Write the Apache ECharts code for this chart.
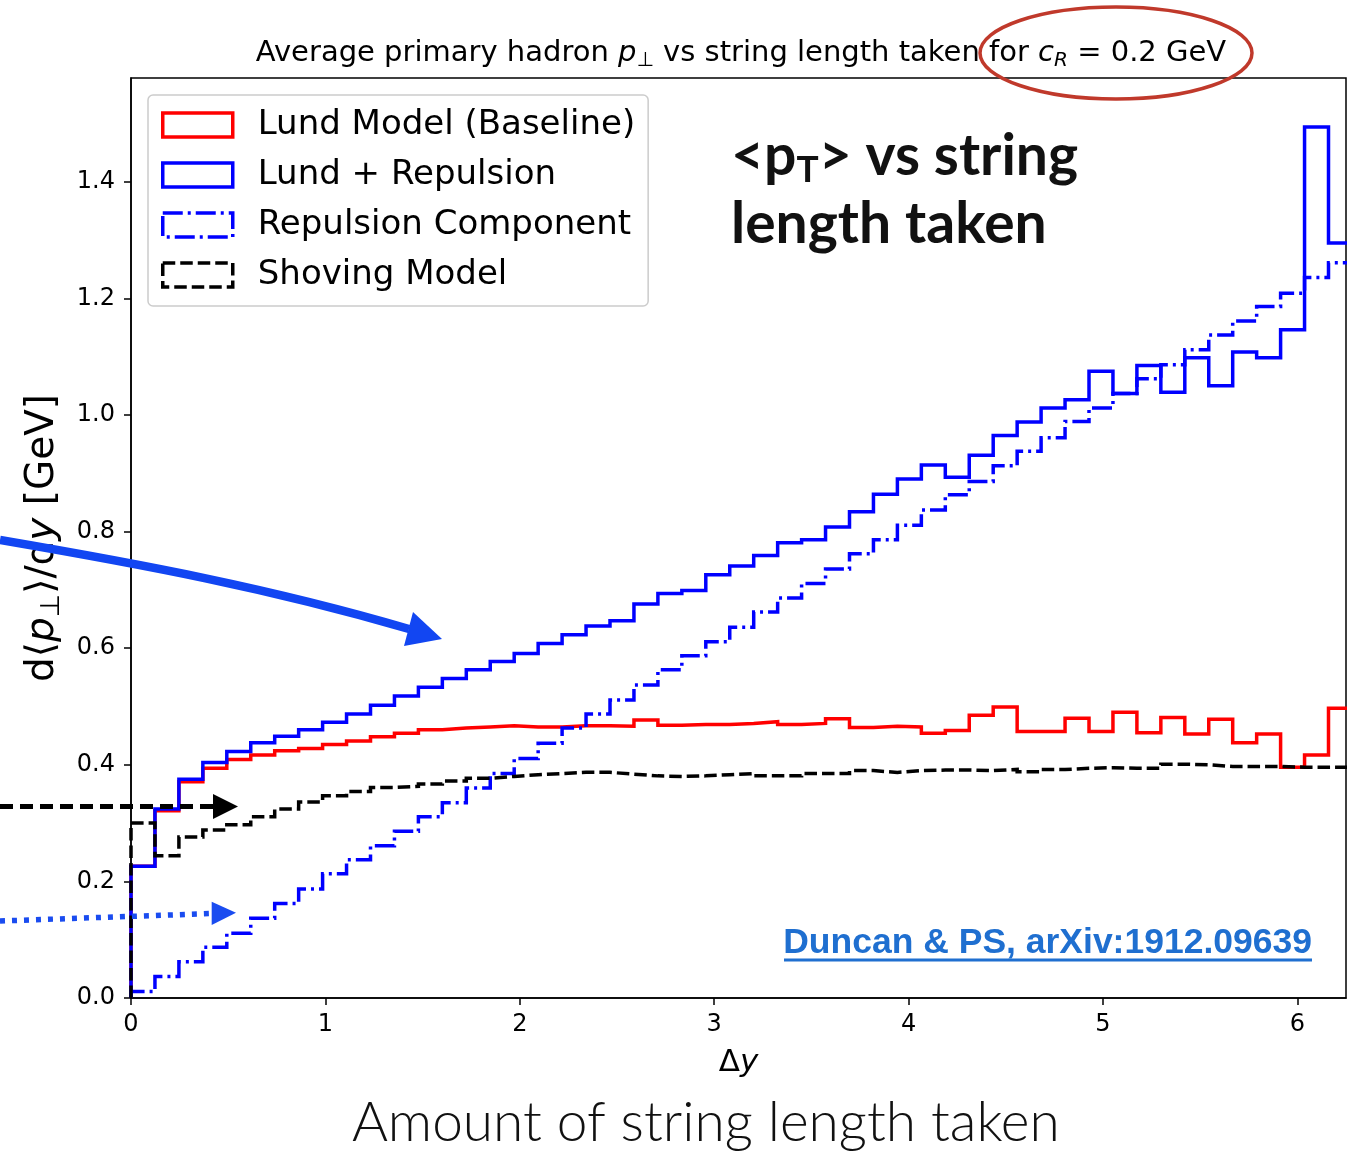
<!DOCTYPE html>
<html>
<head>
<meta charset="utf-8">
<title>Average primary hadron pT vs string length taken</title>
<script src="https://cdn.jsdelivr.net/npm/echarts@6.0.0/dist/echarts.min.js"></script>
<style>
  html, body { margin: 0; padding: 0; background: #fff; }
  #main { width: 1347px; height: 1152px; }
</style>
</head>
<body>
<div id="main"></div>
<script>
// histogram bins over delta-y, 51 bins across 0..2pi
const BIN_WIDTH = 2 * Math.PI / 51;

const xTicks = [0, 1, 2, 3, 4, 5, 6];
const yTicks = [0, 0.2, 0.4, 0.6, 0.8, 1.0, 1.2, 1.4];

const seriesNames = [
  "Lund Model (Baseline)",
  "Lund + Repulsion",
  "Repulsion Component",
  "Shoving Model"
];

// values per bin [GeV]
const lundBaseline = [
  0.226, 0.321, 0.371, 0.394, 0.409, 0.417, 0.424, 0.428, 0.435, 0.441,
  0.448, 0.454, 0.460, 0.463, 0.465, 0.467, 0.465, 0.465, 0.467, 0.467,
  0.466, 0.477, 0.468, 0.469, 0.469, 0.471, 0.474, 0.469, 0.471, 0.479,
  0.464, 0.466, 0.465, 0.454, 0.459, 0.485, 0.499, 0.457, 0.457, 0.480,
  0.457, 0.490, 0.455, 0.481, 0.453, 0.478, 0.438, 0.453, 0.396, 0.417,
  0.497
];
const lundRepulsion = [
  0.226, 0.324, 0.375, 0.404, 0.423, 0.438, 0.449, 0.460, 0.473, 0.487,
  0.502, 0.518, 0.533, 0.548, 0.563, 0.577, 0.591, 0.608, 0.623, 0.638,
  0.647, 0.676, 0.694, 0.699, 0.726, 0.741, 0.759, 0.781, 0.786, 0.808,
  0.834, 0.864, 0.890, 0.914, 0.893, 0.931, 0.965, 0.988, 1.012, 1.026,
  1.075, 1.037, 1.085, 1.039, 1.098, 1.050, 1.108, 1.098, 1.146, 1.494,
  1.295
];
const repulsionComponent = [
  0.011, 0.037, 0.062, 0.087, 0.111, 0.137, 0.162, 0.187, 0.213, 0.237,
  0.261, 0.286, 0.311, 0.335, 0.360, 0.385, 0.411, 0.437, 0.463, 0.487,
  0.511, 0.537, 0.563, 0.587, 0.611, 0.636, 0.662, 0.686, 0.711, 0.736,
  0.762, 0.786, 0.811, 0.837, 0.863, 0.886, 0.913, 0.938, 0.961, 0.989,
  1.012, 1.037, 1.062, 1.086, 1.112, 1.137, 1.161, 1.186, 1.209, 1.236,
  1.261
];
const shovingModel = [
  0.300, 0.244, 0.276, 0.288, 0.297, 0.311, 0.324, 0.336, 0.347, 0.354,
  0.361, 0.363, 0.367, 0.372, 0.377, 0.380, 0.383, 0.385, 0.387, 0.387,
  0.384, 0.381, 0.380, 0.381, 0.383, 0.385, 0.381, 0.381, 0.385, 0.385,
  0.390, 0.387, 0.390, 0.391, 0.391, 0.390, 0.392, 0.388, 0.392, 0.394,
  0.395, 0.394, 0.394, 0.401, 0.400, 0.397, 0.397, 0.397, 0.396, 0.396,
  0.396
];

// turn bin values into step outline points (like histtype='step')
function stepData(values) {
  const pts = [[0, 0]];
  values.forEach((v, i) => pts.push([i * BIN_WIDTH, v]));
  pts.push([values.length * BIN_WIDTH, values[values.length - 1]]);
  return pts;
}

const FONT = "DejaVu Sans";
const BLUE = "#0000ff";
const RED = "#ff0000";
const DASHDOT = [20, 5, 3, 5];
const DASHED = [12.5, 5];

const chart = echarts.init(document.getElementById("main"), null, { renderer: "canvas" });

function histSeries(name, values, color, type) {
  return {
    name: name,
    type: "line",
    step: "end",
    data: stepData(values),
    showSymbol: false,
    symbol: "none",
    clip: true,
    silent: true,
    lineStyle: { color: color, width: 3.5, type: type, cap: "butt", join: "miter" },
    itemStyle: { color: color }
  };
}

const legendIcon = (name, color, type) => ({
  name: name,
  icon: "rect",
  itemStyle: { color: "rgba(0,0,0,0)", borderColor: color, borderWidth: 3.5, borderType: type }
});

const option = {
  animation: false,
  backgroundColor: "#ffffff",
  title: {
    text: "{n|Average primary hadron }{i|p}{s|⊥}{n| vs string length taken for }{i|c}{s|R}{n| = 0.2 GeV}",
    left: 736,
    top: 30,
    textAlign: "center",
    textStyle: {
      fontWeight: "normal",
      rich: {
        n: { fontFamily: FONT, fontWeight: "normal", fontSize: 29, color: "#000", lineHeight: 36 },
        i: { fontFamily: FONT, fontWeight: "normal", fontStyle: "italic", fontSize: 29, color: "#000", lineHeight: 36 },
        s: { fontFamily: FONT, fontWeight: "normal", fontStyle: "italic", fontSize: 20, color: "#000", lineHeight: 36, verticalAlign: "bottom" }
      }
    }
  },
  legend: {
    orient: "vertical",
    left: 148,
    top: 95,
    padding: [13, 13, 14, 13],
    itemWidth: 70,
    itemHeight: 24,
    itemGap: 16,
    backgroundColor: "rgba(255,255,255,0.85)",
    borderColor: "#cccccc",
    borderWidth: 1.5,
    borderRadius: 5,
    selectedMode: false,
    textStyle: { fontFamily: FONT, fontSize: 34, color: "#000", lineHeight: 34, padding: [0, 0, 0, 20] },
    data: [
      legendIcon(seriesNames[0], RED, "solid"),
      legendIcon(seriesNames[1], BLUE, "solid"),
      legendIcon(seriesNames[2], BLUE, DASHDOT),
      legendIcon(seriesNames[3], "#000", DASHED)
    ]
  },
  grid: {
    left: 131,
    top: 78,
    right: 1,
    bottom: 154,
    show: true,
    borderColor: "#000",
    borderWidth: 1.5,
    backgroundColor: "transparent"
  },
  xAxis: {
    type: "value",
    min: 0,
    max: 6.25,
    name: "{n|Δ}{i|y}",
    nameLocation: "middle",
    nameGap: 49,
    nameTextStyle: {
      rich: {
        n: { fontFamily: FONT, fontSize: 31, color: "#000" },
        i: { fontFamily: FONT, fontStyle: "italic", fontSize: 31, color: "#000" }
      }
    },
    axisLine: { show: true, onZero: false, lineStyle: { color: "#000", width: 1.5 } },
    axisTick: { show: true, inside: false, length: 7, customValues: xTicks, lineStyle: { color: "#000", width: 1.5 } },
    axisLabel: {
      customValues: xTicks,
      margin: 15,
      fontFamily: FONT,
      fontSize: 24,
      color: "#000",
      formatter: (v) => String(Math.round(v))
    },
    splitLine: { show: false }
  },
  yAxis: {
    type: "value",
    min: 0,
    max: 1.578,
    name: "{n|d⟨}{i|p}{s|⊥}{n|⟩/d}{i|y}{n| [GeV]}",
    nameLocation: "middle",
    nameGap: 65,
    nameRotate: 90,
    nameTextStyle: {
      rich: {
        n: { fontFamily: FONT, fontSize: 39, color: "#000", lineHeight: 46 },
        i: { fontFamily: FONT, fontStyle: "italic", fontSize: 39, color: "#000", lineHeight: 46 },
        s: { fontFamily: FONT, fontSize: 27, color: "#000", lineHeight: 46, verticalAlign: "bottom" }
      }
    },
    axisLine: { show: true, onZero: false, lineStyle: { color: "#000", width: 1.5 } },
    axisTick: { show: true, inside: false, length: 7, customValues: yTicks, lineStyle: { color: "#000", width: 1.5 } },
    axisLabel: {
      customValues: yTicks,
      margin: 16,
      fontFamily: FONT,
      fontSize: 24,
      color: "#000",
      formatter: (v) => v.toFixed(1)
    },
    splitLine: { show: false }
  },
  series: [
    histSeries(seriesNames[0], lundBaseline, RED, "solid"),
    histSeries(seriesNames[1], lundRepulsion, BLUE, "solid"),
    histSeries(seriesNames[2], repulsionComponent, BLUE, DASHDOT),
    histSeries(seriesNames[3], shovingModel, "#000", DASHED)
  ],
  graphic: [
    // red ellipse round the c_R part of the title
    {
      type: "ellipse",
      shape: { cx: 1116, cy: 53, rx: 136, ry: 46 },
      style: { fill: "none", stroke: "#c0392b", lineWidth: 3.5 },
      z: 100
    },
    // slide headline
    {
      type: "text",
      x: 731,
      y: 157,
      style: {
        text: "{b|<p}{t|T}{b|> vs string}",
        textVerticalAlign: "middle",
        rich: {
          b: { fontFamily: "Lato", fontWeight: "bold", fontSize: 57, fill: "#111", lineHeight: 64 },
          t: { fontFamily: "Lato", fontWeight: "bold", fontSize: 37, fill: "#111", lineHeight: 64, verticalAlign: "bottom" }
        }
      },
      z: 100
    },
    {
      type: "text",
      x: 731,
      y: 225,
      style: {
        text: "length taken",
        font: 'bold 57px "Lato"',
        fill: "#111",
        textVerticalAlign: "middle"
      },
      z: 100
    },
    // curved blue arrow pointing at the Lund + Repulsion curve
    {
      type: "bezierCurve",
      shape: { x1: 0, y1: 540, cpx1: 140, cpy1: 564, cpx2: 269, cpy2: 588, x2: 409, y2: 629 },
      style: { stroke: "#1246f2", lineWidth: 8.5, fill: "none" },
      z: 100
    },
    {
      type: "polygon",
      shape: { points: [[442, 639], [413, 612], [404, 646]] },
      style: { fill: "#1246f2" },
      z: 100
    },
    // black dashed arrow
    {
      type: "line",
      shape: { x1: 0, y1: 806.5, x2: 214, y2: 806.5 },
      style: { stroke: "#000", lineWidth: 5, lineDash: [13, 7] },
      z: 100
    },
    {
      type: "polygon",
      shape: { points: [[238, 806.5], [213, 794], [213, 819]] },
      style: { fill: "#000" },
      z: 100
    },
    // blue dotted arrow
    {
      type: "line",
      shape: { x1: 0, y1: 921, x2: 212, y2: 913.5 },
      style: { stroke: "#1a4cf0", lineWidth: 5.5, lineDash: [5, 7] },
      z: 100
    },
    {
      type: "polygon",
      shape: { points: [[236, 912.7], [211.7, 901.7], [211.7, 925]] },
      style: { fill: "#1a4cf0" },
      z: 100
    },
    // reference link
    {
      type: "text",
      x: 1312,
      y: 943,
      style: {
        text: "Duncan & PS, arXiv:1912.09639",
        font: 'bold 35.5px "Liberation Sans"',
        fill: "#1f6fd0",
        textAlign: "right",
        textVerticalAlign: "middle"
      },
      z: 100
    },
    {
      type: "line",
      shape: { x1: 784, y1: 960, x2: 1312, y2: 960 },
      style: { stroke: "#1f6fd0", lineWidth: 3 },
      z: 100
    },
    // slide caption under the axis
    {
      type: "text",
      x: 352,
      y: 1123,
      style: {
        text: "Amount of string length taken",
        font: '300 55px "Lato"',
        fill: "#111",
        textVerticalAlign: "middle"
      },
      z: 100
    }
  ]
};

chart.setOption(option);
</script>
</body>
</html>
